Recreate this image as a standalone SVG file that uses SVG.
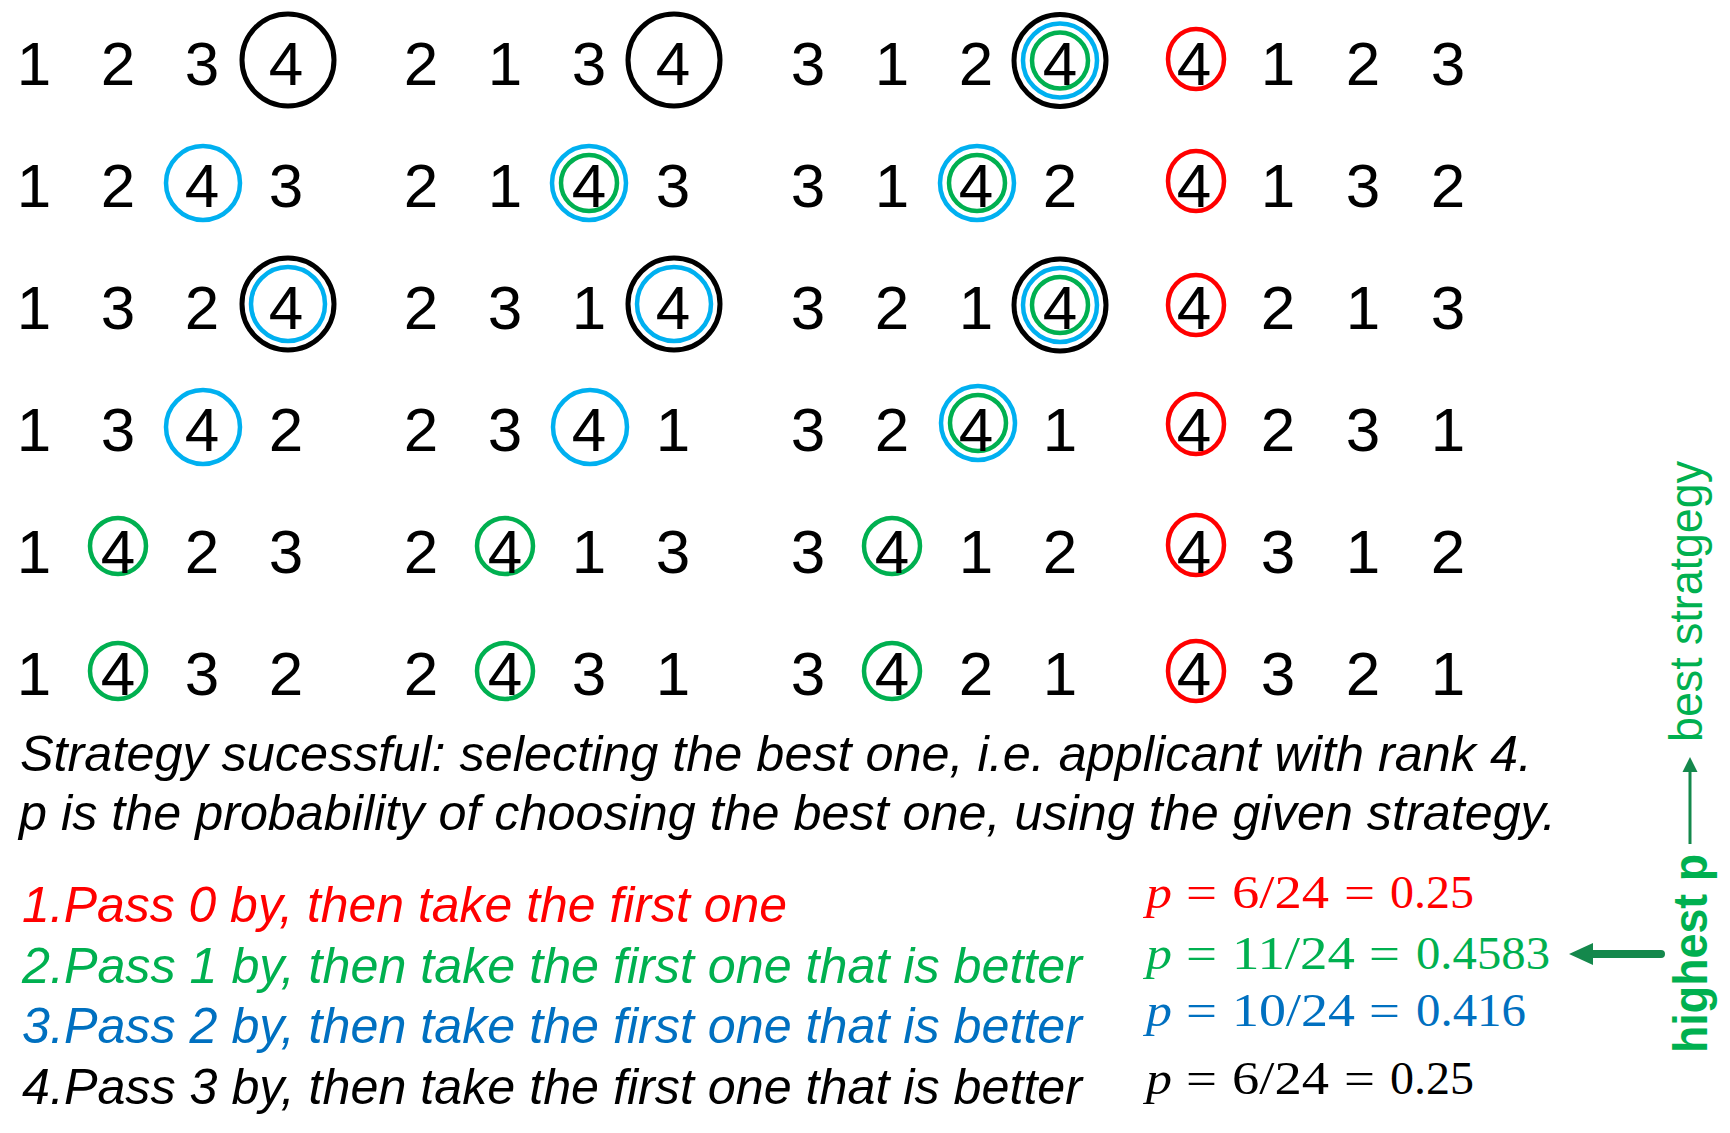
<svg xmlns="http://www.w3.org/2000/svg" width="1730" height="1133" viewBox="0 0 1730 1133">
<style>
.d{font-family:"Liberation Sans",Arial,sans-serif;font-size:62px;fill:#000;text-anchor:middle}
.ck{fill:none;stroke:#000;stroke-width:5}
.cb{fill:none;stroke:#00B0F0;stroke-width:4.5}
.cg{fill:none;stroke:#00B050;stroke-width:4.5}
.cr{fill:none;stroke:#FF0000;stroke-width:4.5}
.t{font-family:"Liberation Sans",Arial,sans-serif;font-size:50px;font-style:italic}
.f{font-family:"Liberation Serif","Times New Roman",serif;font-size:46px}
.p{font-style:italic}
.arr{fill:none;stroke:#14884C}
.g{fill:#00B050;font-family:"Liberation Sans",Arial,sans-serif}
.red{fill:#FF0000}
.grn{fill:#00B050}
.blu{fill:#0070C0}
.blk{fill:#000}
</style>
<defs>
<marker id="headBig" markerUnits="userSpaceOnUse" markerWidth="26" markerHeight="24" refX="2" refY="12" orient="auto">
<path d="M26,12 L2,1 L2,23 Z" fill="#14884C"/>
</marker>
<marker id="headSmall" markerUnits="userSpaceOnUse" markerWidth="16" markerHeight="16" refX="1" refY="8" orient="auto">
<path d="M16,8 L1,0.5 L1,15.5 Z" fill="#14884C"/>
</marker>
</defs>
<rect width="1730" height="1133" fill="#fff"/>

<!-- Row 1 -->
<g id="perm-1234">
<circle class="ck" cx="288" cy="60" r="46"/>
<text class="d" y="85"><tspan x="34">1</tspan><tspan x="118">2</tspan><tspan x="202">3</tspan><tspan x="286">4</tspan></text>
</g>
<g id="perm-2134">
<circle class="ck" cx="674" cy="60" r="46"/>
<text class="d" y="85"><tspan x="421">2</tspan><tspan x="505">1</tspan><tspan x="589">3</tspan><tspan x="673">4</tspan></text>
</g>
<g id="perm-3124">
<circle class="ck" cx="1060" cy="60.5" r="46"/>
<circle class="cb" cx="1060" cy="60.5" r="37"/>
<circle class="cg" cx="1060" cy="60.5" r="28"/>
<text class="d" y="85"><tspan x="808">3</tspan><tspan x="892">1</tspan><tspan x="976">2</tspan><tspan x="1060">4</tspan></text>
</g>
<g id="perm-4123">
<ellipse class="cr" cx="1196" cy="59" rx="28" ry="30"/>
<text class="d" y="85"><tspan x="1194">4</tspan><tspan x="1278">1</tspan><tspan x="1363">2</tspan><tspan x="1448">3</tspan></text>
</g>

<!-- Row 2 -->
<g id="perm-1243">
<circle class="cb" cx="203" cy="183" r="37"/>
<text class="d" y="207"><tspan x="34">1</tspan><tspan x="118">2</tspan><tspan x="202">4</tspan><tspan x="286">3</tspan></text>
</g>
<g id="perm-2143">
<circle class="cb" cx="589" cy="183" r="37"/>
<circle class="cg" cx="589" cy="183" r="28"/>
<text class="d" y="207"><tspan x="421">2</tspan><tspan x="505">1</tspan><tspan x="589">4</tspan><tspan x="673">3</tspan></text>
</g>
<g id="perm-3142">
<circle class="cb" cx="977" cy="183" r="37"/>
<circle class="cg" cx="977" cy="183" r="28"/>
<text class="d" y="207"><tspan x="808">3</tspan><tspan x="892">1</tspan><tspan x="976">4</tspan><tspan x="1060">2</tspan></text>
</g>
<g id="perm-4132">
<ellipse class="cr" cx="1196" cy="181" rx="28" ry="30"/>
<text class="d" y="207"><tspan x="1194">4</tspan><tspan x="1278">1</tspan><tspan x="1363">3</tspan><tspan x="1448">2</tspan></text>
</g>

<!-- Row 3 -->
<g id="perm-1324">
<circle class="ck" cx="288" cy="304" r="46"/>
<circle class="cb" cx="288" cy="304" r="37"/>
<text class="d" y="329"><tspan x="34">1</tspan><tspan x="118">3</tspan><tspan x="202">2</tspan><tspan x="286">4</tspan></text>
</g>
<g id="perm-2314">
<circle class="ck" cx="674" cy="304" r="46"/>
<circle class="cb" cx="674" cy="304" r="37"/>
<text class="d" y="329"><tspan x="421">2</tspan><tspan x="505">3</tspan><tspan x="589">1</tspan><tspan x="673">4</tspan></text>
</g>
<g id="perm-3214">
<circle class="ck" cx="1060" cy="305" r="46"/>
<circle class="cb" cx="1060" cy="305" r="37"/>
<circle class="cg" cx="1060" cy="305" r="28"/>
<text class="d" y="329"><tspan x="808">3</tspan><tspan x="892">2</tspan><tspan x="976">1</tspan><tspan x="1060">4</tspan></text>
</g>
<g id="perm-4213">
<ellipse class="cr" cx="1196" cy="305" rx="28" ry="30"/>
<text class="d" y="329"><tspan x="1194">4</tspan><tspan x="1278">2</tspan><tspan x="1363">1</tspan><tspan x="1448">3</tspan></text>
</g>

<!-- Row 4 -->
<g id="perm-1342">
<circle class="cb" cx="203" cy="427" r="37"/>
<text class="d" y="451"><tspan x="34">1</tspan><tspan x="118">3</tspan><tspan x="202">4</tspan><tspan x="286">2</tspan></text>
</g>
<g id="perm-2341">
<circle class="cb" cx="590" cy="427" r="37"/>
<text class="d" y="451"><tspan x="421">2</tspan><tspan x="505">3</tspan><tspan x="589">4</tspan><tspan x="673">1</tspan></text>
</g>
<g id="perm-3241">
<circle class="cb" cx="978" cy="423" r="37"/>
<circle class="cg" cx="978" cy="423" r="28"/>
<text class="d" y="451"><tspan x="808">3</tspan><tspan x="892">2</tspan><tspan x="976">4</tspan><tspan x="1060">1</tspan></text>
</g>
<g id="perm-4231">
<ellipse class="cr" cx="1196" cy="424" rx="28" ry="30"/>
<text class="d" y="451"><tspan x="1194">4</tspan><tspan x="1278">2</tspan><tspan x="1363">3</tspan><tspan x="1448">1</tspan></text>
</g>

<!-- Row 5 -->
<g id="perm-1423">
<circle class="cg" cx="118" cy="546" r="28"/>
<text class="d" y="573"><tspan x="34">1</tspan><tspan x="118">4</tspan><tspan x="202">2</tspan><tspan x="286">3</tspan></text>
</g>
<g id="perm-2413">
<circle class="cg" cx="505" cy="546" r="28"/>
<text class="d" y="573"><tspan x="421">2</tspan><tspan x="505">4</tspan><tspan x="589">1</tspan><tspan x="673">3</tspan></text>
</g>
<g id="perm-3412">
<circle class="cg" cx="892" cy="546" r="28"/>
<text class="d" y="573"><tspan x="808">3</tspan><tspan x="892">4</tspan><tspan x="976">1</tspan><tspan x="1060">2</tspan></text>
</g>
<g id="perm-4312">
<ellipse class="cr" cx="1196" cy="545" rx="28" ry="30"/>
<text class="d" y="573"><tspan x="1194">4</tspan><tspan x="1278">3</tspan><tspan x="1363">1</tspan><tspan x="1448">2</tspan></text>
</g>

<!-- Row 6 -->
<g id="perm-1432">
<circle class="cg" cx="118" cy="671" r="28"/>
<text class="d" y="695"><tspan x="34">1</tspan><tspan x="118">4</tspan><tspan x="202">3</tspan><tspan x="286">2</tspan></text>
</g>
<g id="perm-2431">
<circle class="cg" cx="505" cy="671" r="28"/>
<text class="d" y="695"><tspan x="421">2</tspan><tspan x="505">4</tspan><tspan x="589">3</tspan><tspan x="673">1</tspan></text>
</g>
<g id="perm-3421">
<circle class="cg" cx="892" cy="671" r="28"/>
<text class="d" y="695"><tspan x="808">3</tspan><tspan x="892">4</tspan><tspan x="976">2</tspan><tspan x="1060">1</tspan></text>
</g>
<g id="perm-4321">
<ellipse class="cr" cx="1196" cy="671" rx="28" ry="30"/>
<text class="d" y="695"><tspan x="1194">4</tspan><tspan x="1278">3</tspan><tspan x="1363">2</tspan><tspan x="1448">1</tspan></text>
</g>

<!-- Explanation -->
<g id="explanation">
<text class="t" x="20" y="771" textLength="1512" lengthAdjust="spacingAndGlyphs">Strategy sucessful: selecting the best one, i.e. applicant with rank 4.</text>
<text class="t" x="19" y="830" textLength="1537" lengthAdjust="spacingAndGlyphs">p is the probability of choosing the best one, using the given strategy.</text>
</g>

<!-- Strategies -->
<g id="strategy-1">
<text class="t" x="22" y="922" fill="#FF0000" textLength="765" lengthAdjust="spacingAndGlyphs">1.Pass 0 by, then take the first one</text>
<g class="f red">
<text class="p" x="1146" y="908" textLength="26" lengthAdjust="spacingAndGlyphs">p</text>
<text x="1186" y="908" textLength="31" lengthAdjust="spacingAndGlyphs">=</text>
<text x="1232" y="908" textLength="97" lengthAdjust="spacingAndGlyphs">6/24</text>
<text x="1344" y="908" textLength="31" lengthAdjust="spacingAndGlyphs">=</text>
<text x="1390" y="908" textLength="84" lengthAdjust="spacingAndGlyphs">0.25</text>
</g>
</g>
<g id="strategy-2">
<text class="t" x="22" y="983" fill="#00B050" textLength="1060" lengthAdjust="spacingAndGlyphs">2.Pass 1 by, then take the first one that is better</text>
<g class="f grn">
<text class="p" x="1146" y="969" textLength="26" lengthAdjust="spacingAndGlyphs">p</text>
<text x="1186" y="969" textLength="31" lengthAdjust="spacingAndGlyphs">=</text>
<text x="1232" y="969" textLength="123" lengthAdjust="spacingAndGlyphs">11/24</text>
<text x="1369" y="969" textLength="31" lengthAdjust="spacingAndGlyphs">=</text>
<text x="1416" y="969" textLength="134" lengthAdjust="spacingAndGlyphs">0.4583</text>
</g>
</g>
<g id="strategy-3">
<text class="t" x="22" y="1043" fill="#0070C0" textLength="1060" lengthAdjust="spacingAndGlyphs">3.Pass 2 by, then take the first one that is better</text>
<g class="f blu">
<text class="p" x="1146" y="1026" textLength="26" lengthAdjust="spacingAndGlyphs">p</text>
<text x="1186" y="1026" textLength="31" lengthAdjust="spacingAndGlyphs">=</text>
<text x="1232" y="1026" textLength="123" lengthAdjust="spacingAndGlyphs">10/24</text>
<text x="1369" y="1026" textLength="31" lengthAdjust="spacingAndGlyphs">=</text>
<text x="1416" y="1026" textLength="110" lengthAdjust="spacingAndGlyphs">0.416</text>
</g>
</g>
<g id="strategy-4">
<text class="t" x="22" y="1104" fill="#000" textLength="1060" lengthAdjust="spacingAndGlyphs">4.Pass 3 by, then take the first one that is better</text>
<g class="f blk">
<text class="p" x="1146" y="1094" textLength="26" lengthAdjust="spacingAndGlyphs">p</text>
<text x="1186" y="1094" textLength="31" lengthAdjust="spacingAndGlyphs">=</text>
<text x="1232" y="1094" textLength="97" lengthAdjust="spacingAndGlyphs">6/24</text>
<text x="1344" y="1094" textLength="31" lengthAdjust="spacingAndGlyphs">=</text>
<text x="1390" y="1094" textLength="84" lengthAdjust="spacingAndGlyphs">0.25</text>
</g>
</g>

<!-- Labels -->
<g id="label-highest-p">
<text class="g" transform="translate(1707,1053) rotate(-90)" font-size="49" font-weight="bold" textLength="199" lengthAdjust="spacingAndGlyphs">highest p</text>
</g>
<g id="label-best-strategy">
<text class="g" transform="translate(1702,742) rotate(-90)" font-size="46" textLength="281" lengthAdjust="spacingAndGlyphs">best stratgegy</text>
</g>

<!-- Connectors -->
<g id="connectors">
<path class="arr" d="M1661,954 L1593,954" stroke-width="8" stroke-linecap="round" marker-end="url(#headBig)"/>
<path class="arr" d="M1690,844 L1690,772" stroke-width="3" marker-end="url(#headSmall)"/>
</g>
</svg>
